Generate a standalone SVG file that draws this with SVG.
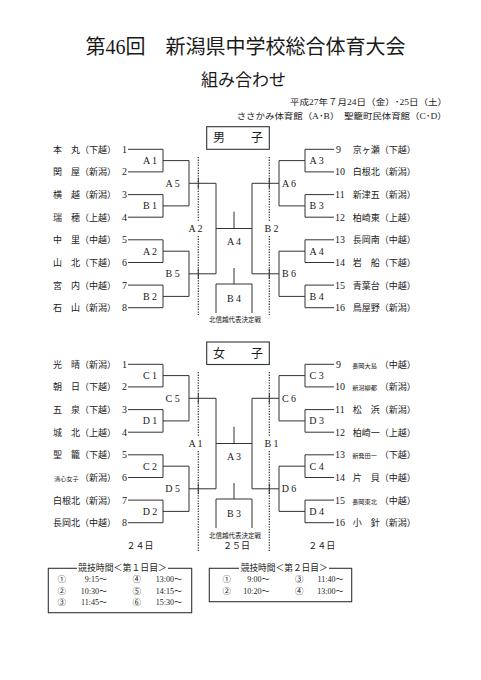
<svg xmlns="http://www.w3.org/2000/svg" width="481" height="680" viewBox="0 0 481 680">
<style>
.ln{stroke:#333;stroke-width:1;fill:none}
.dot{stroke:#333;stroke-width:1.2;stroke-dasharray:1.3 1.3;fill:none}
.bx{stroke:#333;stroke-width:1.1;fill:none}
text{font-family:"Liberation Serif","Noto Sans CJK JP",serif;fill:#1a1a1a}
.nm{font-size:9px}
.sm{font-size:6.2px}
.num{font-size:10px}
.nr{font-size:10px;text-anchor:end}
.lb{font-size:10px;text-anchor:middle}
.cap{font-size:6.5px;text-anchor:middle}
.day{font-size:9px;text-anchor:middle}
.tm{font-size:8px;text-anchor:end}
.ci{font-size:8.5px;text-anchor:middle}
.tt{font-size:9px;text-anchor:middle}
</style>
<rect width="481" height="680" fill="#fff"/>

<g id="header">
<text x="245.5" y="54.3" font-size="20" text-anchor="middle">第46回　新潟県中学校総合体育大会</text>
<text x="243.5" y="85.5" font-size="17" text-anchor="middle">組み合わせ</text>
<text x="290" y="105" font-size="8.5" textLength="157" lengthAdjust="spacingAndGlyphs">平成27年７月24日（金）･25日（土）</text>
<text x="236.7" y="119" font-size="8.5" textLength="210" lengthAdjust="spacingAndGlyphs">ささかみ体育館（A･B）　聖籠町民体育館（C･D）</text>
</g>

<g id="connectors">
<!-- boys -->
<path class="ln" d="M128 149.3H163V171.9H128M163 160.6H189M128 194.6H163V217.2H128M163 205.9H189M189 160.6V205.9M189 183.3H216M128 239.8H163V262.5H128M163 251.2H189M128 285.1H163V307.7H128M163 296.4H189M189 251.2V296.4M189 273.8H216M216 183.3V273.8M216 228.5H252M234 211.7V228.5"/>
<path class="ln" d="M334 149.3H305V171.9H334M305 160.6H279M334 194.6H305V217.2H334M305 205.9H279M279 160.6V205.9M279 183.3H252M334 239.8H305V262.5H334M305 251.2H279M334 285.1H305V307.7H334M305 296.4H279M279 251.2V296.4M279 273.8H252M252 183.3V273.8"/>
<path class="ln" d="M234 268V284M216 313V284H252V313"/>
<path class="ln" d="M198.3 178.3V188.3M198.3 268.8V278.8M269.3 178.3V188.3M269.3 268.8V278.8"/>
<path class="dot" d="M198.3 157V222M198.3 236V315M269.3 157V222M269.3 236V315"/>
<!-- girls -->
<path class="ln" d="M128 364.3H163V386.9H128M163 375.6H189M128 409.6H163V432.2H128M163 420.9H189M189 375.6V420.9M189 398.3H216M128 454.8H163V477.5H128M163 466.2H189M128 500.1H163V522.7H128M163 511.4H189M189 466.2V511.4M189 488.8H216M216 398.3V488.8M216 443.5H252M234 426.7V443.5"/>
<path class="ln" d="M334 364.3H305V386.9H334M305 375.6H279M334 409.6H305V432.2H334M305 420.9H279M279 375.6V420.9M279 398.3H252M334 454.8H305V477.5H334M305 466.2H279M334 500.1H305V522.7H334M305 511.4H279M279 466.2V511.4M279 488.8H252M252 398.3V488.8"/>
<path class="ln" d="M234 483V499M216 528V499H252V528"/>
<path class="ln" d="M198.3 393.3V403.3M198.3 483.8V493.8M269.3 393.3V403.3M269.3 483.8V493.8"/>
<path class="dot" d="M198.3 372V437M198.3 451V551M269.3 372V437M269.3 451V551"/>
</g>

<g id="boys-title"><rect class="bx" x="206.7" y="126.7" width="62.6" height="22.6"/><text x="219 238 257" y="142.3" font-size="12" text-anchor="middle">男　子</text></g>
<g id="girls-title"><rect class="bx" x="206.7" y="342" width="62.6" height="22.5"/><text x="219 238 257" y="357.6" font-size="12" text-anchor="middle">女　子</text></g>

<g id="boys-teams-left">
<g id="b1"><text class="nm" x="53" y="152.7">本　丸（下越）</text><text class="nr" x="127" y="152.7">1</text></g>
<g id="b2"><text class="nm" x="53" y="175.3">関　屋（新潟）</text><text class="nr" x="127" y="175.3">2</text></g>
<g id="b3"><text class="nm" x="53" y="198">横　越（新潟）</text><text class="nr" x="127" y="198">3</text></g>
<g id="b4"><text class="nm" x="53" y="220.6">瑞　穂（上越）</text><text class="nr" x="127" y="220.6">4</text></g>
<g id="b5"><text class="nm" x="53" y="243.2">中　里（中越）</text><text class="nr" x="127" y="243.2">5</text></g>
<g id="b6"><text class="nm" x="53" y="265.9">山　北（下越）</text><text class="nr" x="127" y="265.9">6</text></g>
<g id="b7"><text class="nm" x="53" y="288.5">宮　内（中越）</text><text class="nr" x="127" y="288.5">7</text></g>
<g id="b8"><text class="nm" x="53" y="311.1">石　山（新潟）</text><text class="nr" x="127" y="311.1">8</text></g>
</g>
<g id="boys-teams-right">
<g id="b9"><text class="num" x="336" y="152.7">9</text><text class="nm" x="352.7" y="152.7">京ヶ瀬（下越）</text></g>
<g id="b10"><text class="num" x="335" y="175.3">10</text><text class="nm" x="352.7" y="175.3">白根北（新潟）</text></g>
<g id="b11"><text class="num" x="335" y="198">11</text><text class="nm" x="352.7" y="198">新津五（新潟）</text></g>
<g id="b12"><text class="num" x="335" y="220.6">12</text><text class="nm" x="352.7" y="220.6">柏崎東（上越）</text></g>
<g id="b13"><text class="num" x="335" y="243.2">13</text><text class="nm" x="352.7" y="243.2">長岡南（中越）</text></g>
<g id="b14"><text class="num" x="335" y="265.9">14</text><text class="nm" x="352.7" y="265.9">岩　船（下越）</text></g>
<g id="b15"><text class="num" x="335" y="288.5">15</text><text class="nm" x="352.7" y="288.5">青葉台（中越）</text></g>
<g id="b16"><text class="num" x="335" y="311.1">16</text><text class="nm" x="352.7" y="311.1">鳥屋野（新潟）</text></g>
</g>

<g id="boys-matches">
<text class="lb" x="150" y="164.1">A 1</text>
<text class="lb" x="150" y="209.4">B 1</text>
<text class="lb" x="150" y="254.7">A 2</text>
<text class="lb" x="150" y="299.9">B 2</text>
<text class="lb" x="172.7" y="187.3">A 5</text>
<text class="lb" x="172.7" y="277.3">B 5</text>
<text class="lb" x="316.7" y="164.1">A 3</text>
<text class="lb" x="316.7" y="209.4">B 3</text>
<text class="lb" x="316.7" y="254.7">A 4</text>
<text class="lb" x="316.7" y="299.9">B 4</text>
<text class="lb" x="289" y="187.3">A 6</text>
<text class="lb" x="289" y="277.3">B 6</text>
<text class="lb" x="195.5" y="232">A 2</text>
<text class="lb" x="271.5" y="232">B 2</text>
<text class="lb" x="234" y="244.5">A 4</text>
<text class="lb" x="234" y="301.5">B 4</text>
<text class="cap" x="235" y="322.3">北信越代表決定戦</text>
</g>

<g id="girls-teams-left">
<g id="g1"><text class="nm" x="53" y="367.7">光　晴（新潟）</text><text class="nr" x="127" y="367.7">1</text></g>
<g id="g2"><text class="nm" x="53" y="390.3">朝　日（下越）</text><text class="nr" x="127" y="390.3">2</text></g>
<g id="g3"><text class="nm" x="53" y="413">五　泉（下越）</text><text class="nr" x="127" y="413">3</text></g>
<g id="g4"><text class="nm" x="53" y="435.6">城　北（上越）</text><text class="nr" x="127" y="435.6">4</text></g>
<g id="g5"><text class="nm" x="53" y="458.2">聖　籠（下越）</text><text class="nr" x="127" y="458.2">5</text></g>
<g id="g6"><text class="nm" x="54" y="480.9"><tspan class="sm">清心女子</tspan><tspan x="80">（新潟）</tspan></text><text class="nr" x="127" y="480.9">6</text></g>
<g id="g7"><text class="nm" x="53" y="503.5">白根北（新潟）</text><text class="nr" x="127" y="503.5">7</text></g>
<g id="g8"><text class="nm" x="53" y="526.1">長岡北（中越）</text><text class="nr" x="127" y="526.1">8</text></g>
</g>
<g id="girls-teams-right">
<g id="g9"><text class="num" x="336" y="367.7">9</text><text class="nm" x="352.2" y="367.7"><tspan class="sm">長岡大島</tspan><tspan x="379.7">（中越）</tspan></text></g>
<g id="g10"><text class="num" x="335" y="390.3">10</text><text class="nm" x="352.2" y="390.3"><tspan class="sm">新潟柳都</tspan><tspan x="379.7">（新潟）</tspan></text></g>
<g id="g11"><text class="num" x="335" y="413">11</text><text class="nm" x="352.7" y="413">松　浜（新潟）</text></g>
<g id="g12"><text class="num" x="335" y="435.6">12</text><text class="nm" x="352.7" y="435.6">柏崎一（上越）</text></g>
<g id="g13"><text class="num" x="335" y="458.2">13</text><text class="nm" x="352.2" y="458.2"><tspan class="sm">新発田一</tspan><tspan x="379.7">（下越）</tspan></text></g>
<g id="g14"><text class="num" x="335" y="480.9">14</text><text class="nm" x="352.7" y="480.9">片　貝（中越）</text></g>
<g id="g15"><text class="num" x="335" y="503.5">15</text><text class="nm" x="352.2" y="503.5"><tspan class="sm">長岡東北</tspan><tspan x="379.7">（中越）</tspan></text></g>
<g id="g16"><text class="num" x="335" y="526.1">16</text><text class="nm" x="352.7" y="526.1">小　針（新潟）</text></g>
</g>

<g id="girls-matches">
<text class="lb" x="150" y="379.1">C 1</text>
<text class="lb" x="150" y="424.4">D 1</text>
<text class="lb" x="150" y="469.7">C 2</text>
<text class="lb" x="150" y="514.9">D 2</text>
<text class="lb" x="172.7" y="402.3">C 5</text>
<text class="lb" x="172.7" y="492.3">D 5</text>
<text class="lb" x="316.7" y="379.1">C 3</text>
<text class="lb" x="316.7" y="424.4">D 3</text>
<text class="lb" x="316.7" y="469.7">C 4</text>
<text class="lb" x="316.7" y="514.9">D 4</text>
<text class="lb" x="289" y="402.3">C 6</text>
<text class="lb" x="289" y="492.3">D 6</text>
<text class="lb" x="195.5" y="447">A 1</text>
<text class="lb" x="271.5" y="447">B 1</text>
<text class="lb" x="234" y="459.5">A 3</text>
<text class="lb" x="234" y="516.5">B 3</text>
<text class="cap" x="235" y="537.8">北信越代表決定戦</text>
</g>

<g id="days">
<text class="day" x="140" y="549.3">２４日</text>
<text class="day" x="236.5" y="549">２５日</text>
<text class="day" x="321.7" y="549.3">２４日</text>
</g>

<g id="times-day1">
<rect class="bx" x="48.3" y="568.3" width="143.4" height="44.4"/>
<rect x="77" y="565" width="91" height="7" fill="#fff"/>
<text class="tt" x="122.5" y="571.4" textLength="89" lengthAdjust="spacingAndGlyphs">競技時間＜第１日目＞</text>
<text class="ci" x="61.7" y="582.4">①</text><text class="tm" x="107" y="582.3">9:15～</text>
<text class="ci" x="61.7" y="594.1">②</text><text class="tm" x="107" y="594">10:30～</text>
<text class="ci" x="61.7" y="605.4">③</text><text class="tm" x="107" y="605.3">11:45～</text>
<text class="ci" x="136.7" y="582.4">④</text><text class="tm" x="182" y="582.3">13:00～</text>
<text class="ci" x="136.7" y="594.1">⑤</text><text class="tm" x="182" y="594">14:15～</text>
<text class="ci" x="136.7" y="605.4">⑥</text><text class="tm" x="182" y="605.3">15:30～</text>
</g>
<g id="times-day2">
<rect class="bx" x="209.3" y="568.3" width="142.4" height="33.4"/>
<rect x="239" y="565" width="90" height="7" fill="#fff"/>
<text class="tt" x="284.2" y="571.4" textLength="87" lengthAdjust="spacingAndGlyphs">競技時間＜第２日目＞</text>
<text class="ci" x="226.7" y="582.4">①</text><text class="tm" x="269.5" y="582.3">9:00～</text>
<text class="ci" x="226.7" y="594.1">②</text><text class="tm" x="269.5" y="594">10:20～</text>
<text class="ci" x="299.3" y="582.4">③</text><text class="tm" x="343.5" y="582.3">11:40～</text>
<text class="ci" x="299.3" y="594.1">④</text><text class="tm" x="343.5" y="594">13:00～</text>
</g>
</svg>
